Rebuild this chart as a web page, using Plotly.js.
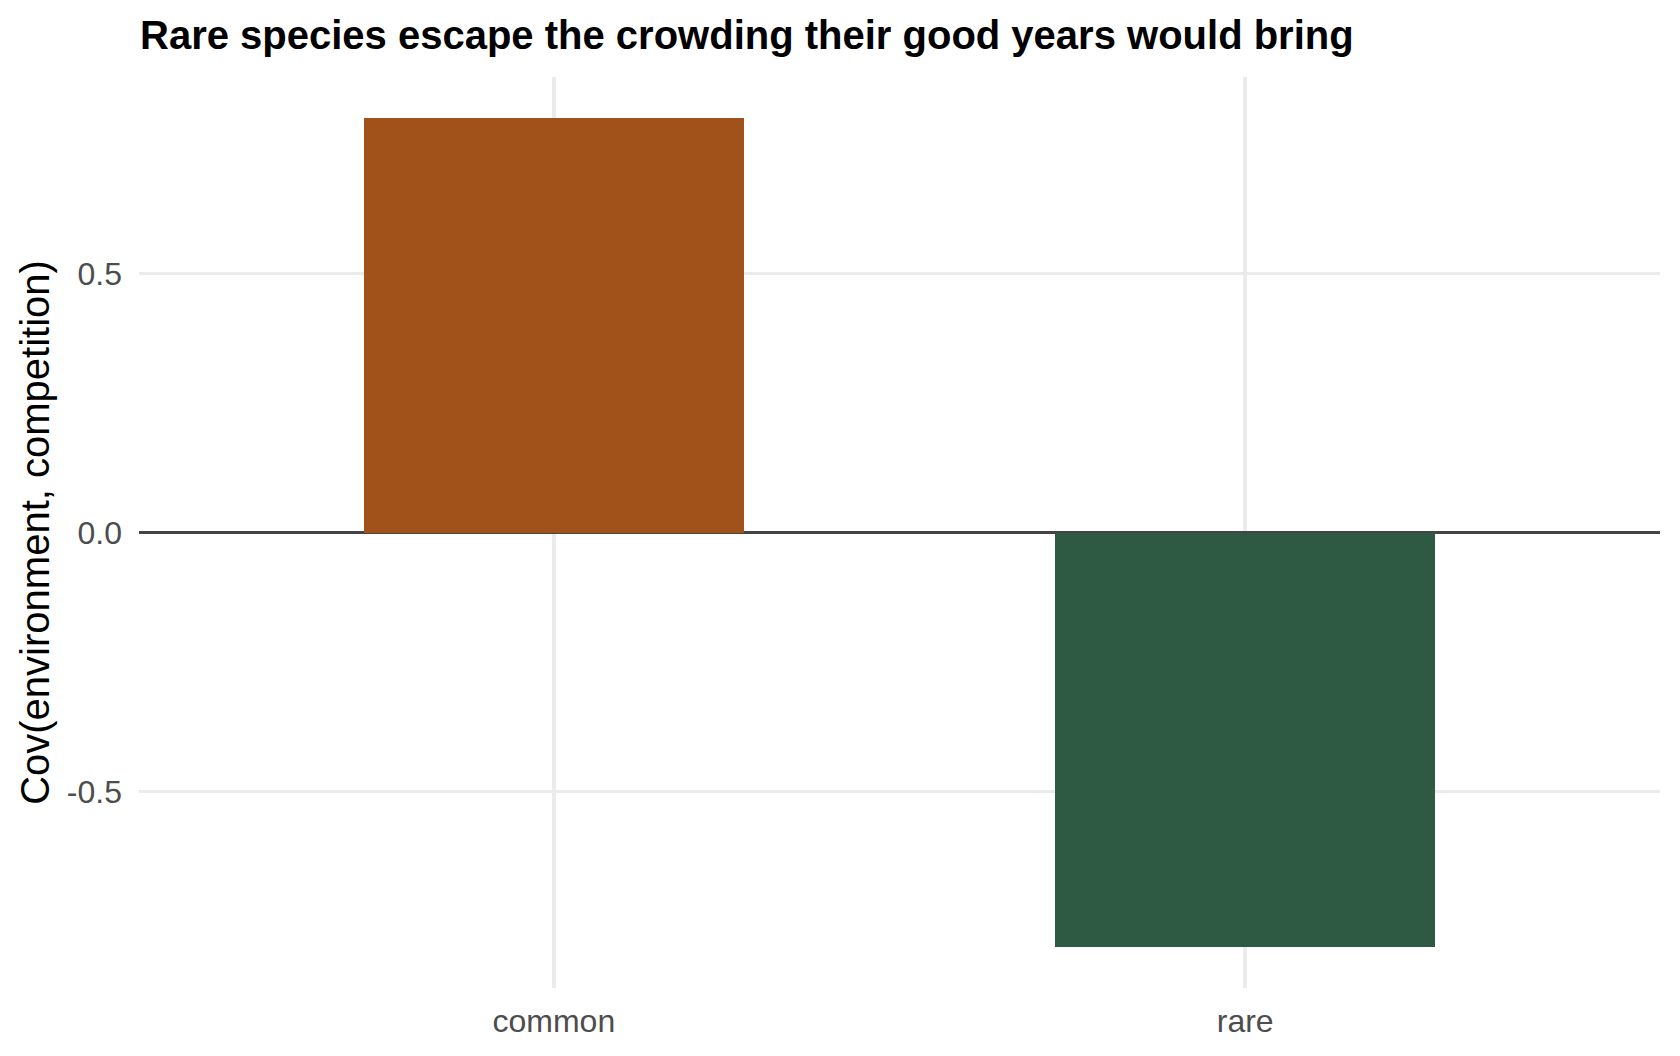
<!DOCTYPE html>
<html>
<head>
<meta charset="utf-8">
<script src="https://cdn.plot.ly/plotly-3.0.1.min.js"></script>
<style>html,body{margin:0;padding:0;background:#fff;}#chart{width:1680px;height:1056px;}</style>
</head>
<body>
<div id="chart"></div>
<script>
const categories = ["common", "rare"];
const covValues = [0.8, -0.8];
const barColors = ["#A1521A", "#2E5A43"];
const yTickValues = [-0.5, 0, 0.5];
const yTickLabels = ["-0.5", "0.0", "0.5"];

const FONT = '"Liberation Sans", Arial, Helvetica, sans-serif';

const trace = {
  type: 'bar',
  x: categories,
  y: covValues,
  width: 0.55,
  marker: {color: barColors, line: {width: 0}},
  hoverinfo: 'x+y'
};

const layout = {
  width: 1680,
  height: 1056,
  paper_bgcolor: '#ffffff',
  plot_bgcolor: '#ffffff',
  margin: {l: 139, r: 20, t: 77, b: 68},
  showlegend: false,
  title: {
    text: '<b>Rare species escape the crowding their good years would bring</b>',
    font: {family: FONT, size: 40, color: '#000000'},
    x: 140/1680, xref: 'container', xanchor: 'left',
    y: 1 - 35/1056, yref: 'container', yanchor: 'middle'
  },
  xaxis: {
    type: 'category',
    range: [-0.6, 1.6],
    showgrid: true,
    gridcolor: '#EBEBEB',
    gridwidth: 3.5,
    zeroline: false,
    showline: false,
    ticks: '',
    ticklabelstandoff: 11,
    tickfont: {family: FONT, size: 32, color: '#4D4D4D'},
    fixedrange: true
  },
  yaxis: {
    range: [-0.88, 0.88],
    tickvals: yTickValues,
    ticktext: yTickLabels,
    showgrid: true,
    gridcolor: '#EBEBEB',
    gridwidth: 3.5,
    zeroline: true,
    zerolinecolor: '#444444',
    zerolinewidth: 2.5,
    showline: false,
    ticks: '',
    ticklabelstandoff: 16,
    tickfont: {family: FONT, size: 32, color: '#4D4D4D'},
    title: {text: 'Cov(environment, competition)', font: {family: FONT, size: 40, color: '#000000'}},
    automargin: false,
    fixedrange: true
  },
  bargap: 0
};

Plotly.newPlot('chart', [trace], layout, {displayModeBar: false, staticPlot: true});
</script>
</body>
</html>
